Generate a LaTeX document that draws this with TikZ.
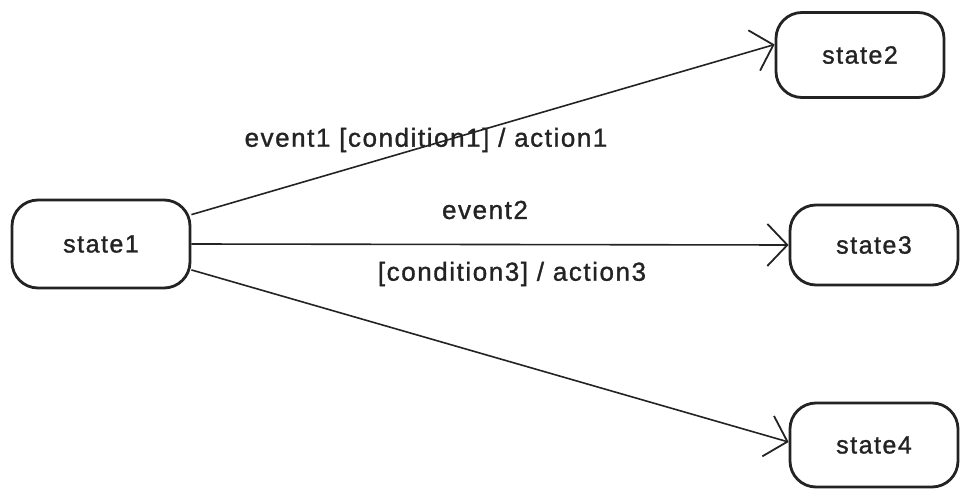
\documentclass[tikz,border=0pt]{standalone}
\usepackage{fontspec}
\setmainfont{Liberation Sans}[LetterSpace=6, FakeBold=1.2]
\usetikzlibrary{arrows.meta}
\definecolor{ink}{RGB}{35,35,35}
\tikzset{
  statebox/.style={draw=ink, line width=2.8pt, rounded corners=26pt, font=\fontsize{25}{28}\selectfont, text=ink, inner sep=0pt},
  trans/.style={draw=ink, line width=1.6pt, -{Straight Barb[length=20pt,width=42pt,line width=1.8pt]}},
  lbl/.style={font=\fontsize{26}{29}\selectfont, text=ink, inner sep=0pt}
}
\begin{document}
\begin{tikzpicture}[x=1pt,y=-1pt]
\useasboundingbox (0,0) rectangle (967,489);
\node[statebox, minimum width=178pt, minimum height=88pt] (s1) at (101,244) {state1};
\node[statebox, minimum width=168pt, minimum height=85pt] (s2) at (860,55) {state2};
\node[statebox, minimum width=168pt, minimum height=80pt] (s3) at (874,245) {state3};
\node[statebox, minimum width=168pt, minimum height=84pt] (s4) at (874,445) {state4};
\draw[trans] (s1.18) -- (s2.173);
\draw[trans] (s1.east) -- (s3.west);
\draw[trans] (s1.-16) -- (s4.178);
\node[lbl] (l1) at (426,140) {event1 [condition1] / action1};
\node[lbl] (l2) at (485,210) {event2};
\node[lbl] (l3) at (512,274) {[condition3] / action3};
\end{tikzpicture}
\end{document}
